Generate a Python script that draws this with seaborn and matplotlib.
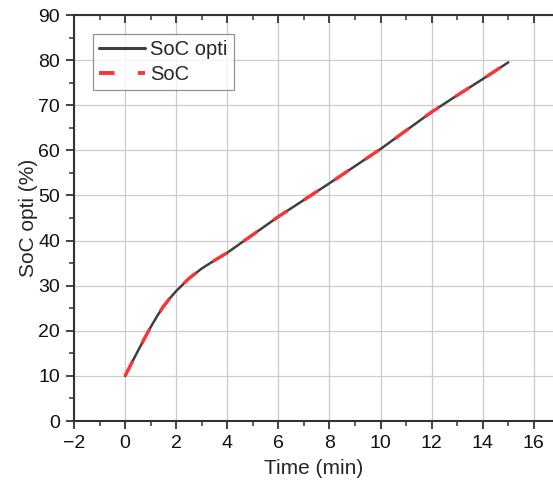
import matplotlib
matplotlib.use("Agg")
import matplotlib.pyplot as plt
import seaborn as sns
import pandas as pd
from matplotlib.ticker import MultipleLocator

time_min = [0, 0.25, 0.5, 0.75, 1, 1.25, 1.5, 1.75, 2, 2.5, 3, 3.5, 4, 5, 6, 7, 8, 9, 10, 11, 12, 13, 14, 15]
soc_opti = [10, 12.8, 15.5, 18.2, 20.8, 23.2, 25.4, 27.2, 28.8, 31.6, 33.8, 35.6, 37.3, 41.3, 45.3, 49.0, 52.7, 56.5, 60.3, 64.4, 68.5, 72.2, 75.8, 79.5]
soc = [10, 12.8, 15.5, 18.2, 20.8, 23.2, 25.4, 27.2, 28.8, 31.6, 33.8, 35.6, 37.3, 41.3, 45.3, 49.0, 52.7, 56.5, 60.3, 64.4, 68.5, 72.2, 75.8, 79.5]

df = pd.DataFrame({"t": time_min, "opti": soc_opti, "soc": soc})

sns.set_style("ticks")
plt.rcParams["font.family"] = ["Liberation Sans", "DejaVu Sans"]

fig = plt.figure(figsize=(5.53, 4.83), dpi=100)
ax = fig.add_axes([74/553, 1-421/483, (553-74)/553, (421-15)/483])

sns.lineplot(data=df, x="t", y="opti", ax=ax, color="#404040", linewidth=1.8, label="SoC opti")
sns.lineplot(data=df, x="t", y="soc", ax=ax, color="#ff3333", linewidth=2.4, label="SoC",
             dashes=False)
ax.lines[1].set_dashes((5, 6))

ax.set_xlim(-2, 16.75)
ax.set_ylim(0, 90)
ax.xaxis.set_major_locator(MultipleLocator(2))
ax.xaxis.set_minor_locator(MultipleLocator(1))
ax.yaxis.set_major_locator(MultipleLocator(10))
ax.yaxis.set_minor_locator(MultipleLocator(5))
ax.grid(True, which="major", color="#cccccc", linewidth=0.9)
ax.set_axisbelow(True)

for s in ["left", "bottom", "top"]:
    ax.spines[s].set_linewidth(1.5)
    ax.spines[s].set_color("#333333")
ax.spines["right"].set_visible(False)

ax.tick_params(axis="both", which="major", length=6, width=1.3, color="#333333",
               labelsize=14, labelcolor="#111111", direction="out", pad=4)
ax.tick_params(axis="both", which="minor", length=3.5, width=1.1, color="#333333", direction="out")
ax.tick_params(axis="x", which="both", top=True, labeltop=False)
for t in ax.xaxis.get_major_ticks() + ax.xaxis.get_minor_ticks():
    t.tick2line.set_marker(matplotlib.lines.TICKDOWN)

ax.set_xlabel("Time (min)", fontsize=15, labelpad=5)
ax.set_ylabel("SoC opti (%)", fontsize=15, labelpad=0)

leg = ax.legend(loc="upper left", bbox_to_anchor=(93/553, 1-34/483), bbox_transform=fig.transFigure,
                fontsize=14.5, frameon=True, fancybox=False, edgecolor="#777777",
                handlelength=2.3, handletextpad=0.25, borderpad=0.3, labelspacing=0.3,
                borderaxespad=0)
leg.get_frame().set_linewidth(0.9)
leg.get_lines()[0].set_linewidth(2.2)
leg.get_lines()[1].set_linewidth(2.8)
leg.get_lines()[1].set_dashes((4, 6))

fig.savefig("out.png", dpi=100)
